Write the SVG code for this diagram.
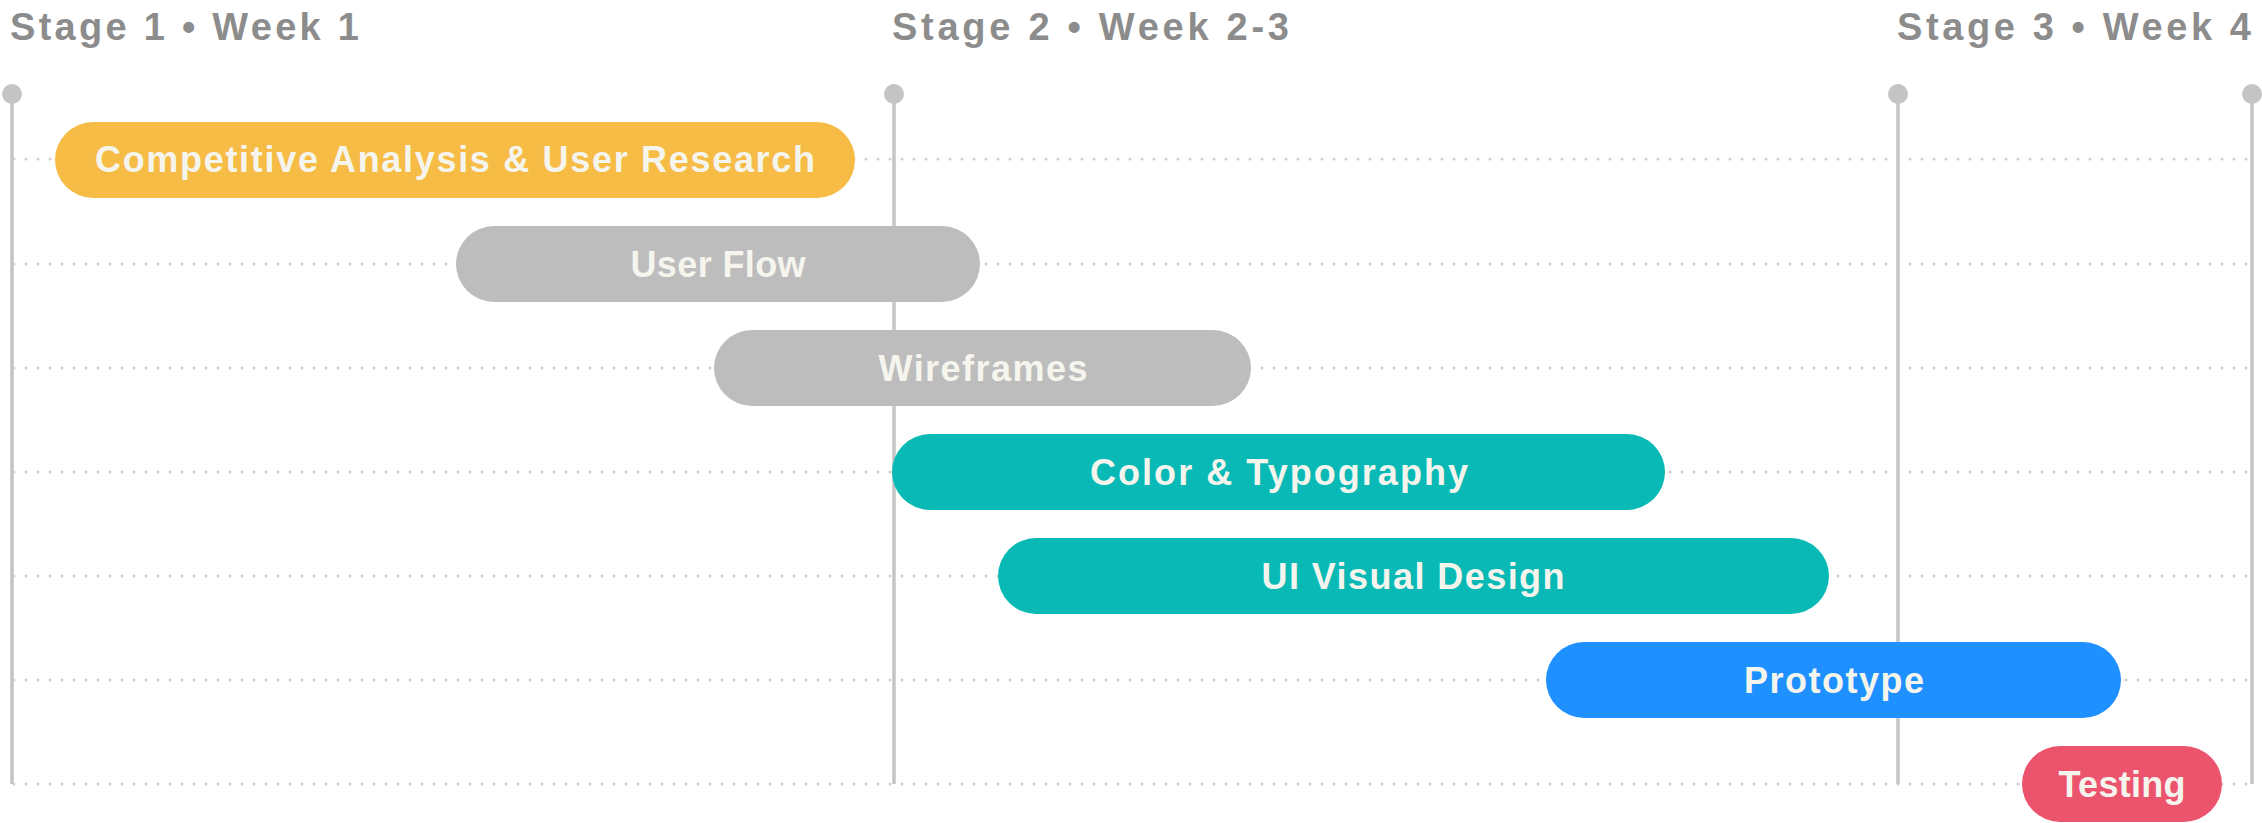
<svg xmlns="http://www.w3.org/2000/svg" width="2262" height="823" viewBox="0 0 2262 823">
<style>
.hdr{font-family:"Liberation Sans",Arial,sans-serif;font-weight:bold;font-size:38px;fill:#8c8c8c}
.lbl{font-family:"Liberation Sans",Arial,sans-serif;font-weight:bold;font-size:36px;fill:#f5f5ee;text-anchor:middle}
.dot{stroke:#cfcfcf;stroke-width:3;stroke-dasharray:0 12;stroke-linecap:round;fill:none}
.vl{stroke:#c4c4c4;stroke-width:3.5;fill:none}
.pin{fill:#c4c4c4}
</style>
<rect width="2262" height="823" fill="#ffffff"/>
<g id="headers">
<text class="hdr" x="10" y="40" textLength="349" lengthAdjust="spacing">Stage 1 • Week 1</text>
<text class="hdr" x="892" y="40" textLength="397" lengthAdjust="spacing">Stage 2 • Week 2-3</text>
<text class="hdr" x="1897" y="40" textLength="354" lengthAdjust="spacing">Stage 3 • Week 4</text>
</g>
<g id="connectors">
<line class="dot" x1="14" y1="159" x2="2252" y2="159"/>
<line class="dot" x1="14" y1="264" x2="2252" y2="264"/>
<line class="dot" x1="14" y1="368" x2="2252" y2="368"/>
<line class="dot" x1="14" y1="472" x2="2252" y2="472"/>
<line class="dot" x1="14" y1="576" x2="2252" y2="576"/>
<line class="dot" x1="14" y1="680" x2="2252" y2="680"/>
<line class="dot" x1="14" y1="784" x2="2252" y2="784"/>
<line class="vl" x1="12" y1="94" x2="12" y2="784"/>
<line class="vl" x1="894" y1="94" x2="894" y2="784"/>
<line class="vl" x1="1898" y1="94" x2="1898" y2="784"/>
<line class="vl" x1="2252" y1="94" x2="2252" y2="784"/>
<circle class="pin" cx="12" cy="94" r="10"/>
<circle class="pin" cx="894" cy="94" r="10"/>
<circle class="pin" cx="1898" cy="94" r="10"/>
<circle class="pin" cx="2252" cy="94" r="10"/>
</g>
<g id="competitive">
<rect x="55" y="122" width="800" height="76" rx="38" fill="#f6bc45"/>
<text class="lbl" x="455" y="172" textLength="720" lengthAdjust="spacing">Competitive Analysis &amp; User Research</text>
</g>
<g id="userflow">
<rect x="456" y="226" width="524" height="76" rx="38" fill="#bdbdbd"/>
<text class="lbl" x="718" y="277" textLength="175" lengthAdjust="spacing">User Flow</text>
</g>
<g id="wireframes">
<rect x="714" y="330" width="537" height="76" rx="38" fill="#bdbdbd"/>
<text class="lbl" x="983" y="381" textLength="209" lengthAdjust="spacing">Wireframes</text>
</g>
<g id="color">
<rect x="892" y="434" width="773" height="76" rx="38" fill="#08b9b5"/>
<text class="lbl" x="1279" y="485" textLength="378" lengthAdjust="spacing">Color &amp; Typography</text>
</g>
<g id="uivisual">
<rect x="998" y="538" width="831" height="76" rx="38" fill="#08b9b5"/>
<text class="lbl" x="1413" y="589" textLength="303" lengthAdjust="spacing">UI Visual Design</text>
</g>
<g id="prototype">
<rect x="1546" y="642" width="575" height="76" rx="38" fill="#1f90ff"/>
<text class="lbl" x="1834" y="693" textLength="180" lengthAdjust="spacing">Prototype</text>
</g>
<g id="testing">
<rect x="2022" y="746" width="200" height="76" rx="38" fill="#ec546e"/>
<text class="lbl" x="2122" y="797" textLength="127" lengthAdjust="spacing">Testing</text>
</g>
</svg>
